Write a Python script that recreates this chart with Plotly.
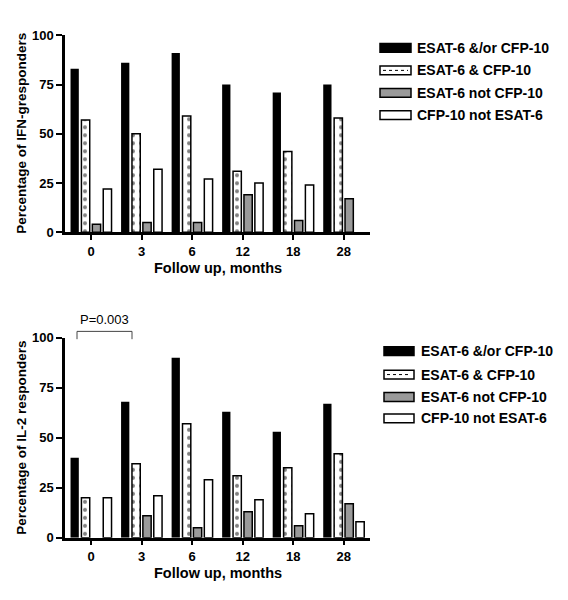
import plotly.graph_objects as go

# ---------------- data ----------------
months = ["0", "3", "6", "12", "18", "28"]
series_names = ["ESAT-6 &/or CFP-10", "ESAT-6 & CFP-10", "ESAT-6 not CFP-10", "CFP-10 not ESAT-6"]

ifn_either = [83, 86, 91, 75, 71, 75]
ifn_both = [57, 50, 59, 31, 41, 58]
ifn_esat_only = [4, 5, 5, 19, 6, 17]
ifn_cfp_only = [22, 32, 27, 25, 24, None]

il2_either = [40, 68, 90, 63, 53, 67]
il2_both = [20, 37, 57, 31, 35, 42]
il2_esat_only = [None, 11, 5, 13, 6, 17]
il2_cfp_only = [20, 21, 29, 19, 12, 8]

y_ticks = [0, 25, 50, 75, 100]
top_ytitle = "Percentage of IFN-gresponders"
bot_ytitle = "Percentage of IL-2 responders"
xtitle = "Follow up, months"
pval_text = "P=0.003"

# ---------------- layout helpers ----------------
W, H = 568, 600
ML, MR = 65, 198
PW = W - ML - MR
FONT = "Liberation Sans, Arial, sans-serif"


def px(x):
    return (x - ML) / PW


def py(y):
    return 1 - y / H


GREY = "#9a9a9a"
styles = [
    dict(marker=dict(color="black", line=dict(color="black", width=0))),
    dict(marker=dict(color="white", line=dict(color="black", width=1.5),
                     pattern=dict(shape=".", fgcolor="black", bgcolor="white", size=8, solidity=0.2))),
    dict(marker=dict(color=GREY, line=dict(color="black", width=1.5))),
    dict(marker=dict(color="white", line=dict(color="black", width=1.5))),
]

fig = go.Figure()
top_data = [ifn_either, ifn_both, ifn_esat_only, ifn_cfp_only]
bot_data = [il2_either, il2_both, il2_esat_only, il2_cfp_only]
for name, vals, st in zip(series_names, top_data, styles):
    fig.add_trace(go.Bar(x=months, y=vals, name=name, xaxis="x", yaxis="y",
                         showlegend=False, **st))
for name, vals, st in zip(series_names, bot_data, styles):
    fig.add_trace(go.Bar(x=months, y=vals, name=name, xaxis="x2", yaxis="y2",
                         showlegend=False, **st))

tickfont = dict(family=FONT, size=13, color="black", weight="bold")
xax = dict(type="category", range=[-0.515, 5.52], showline=True, linewidth=2.5,
           linecolor="black", ticks="outside", ticklen=5, tickwidth=2,
           tickcolor="black", tickfont=tickfont, showgrid=False, zeroline=False,
           fixedrange=True)
yax = dict(range=[0, 100], tickvals=y_ticks, showline=True, linewidth=2.5,
           linecolor="black", ticks="outside", ticklen=6, tickwidth=2,
           tickcolor="black", tickfont=tickfont, showgrid=False, zeroline=False)

top_y0, top_y1 = 231, 29
bot_y0, bot_y1 = 544.3, 339.3

fig.update_layout(
    width=W, height=H,
    margin=dict(l=ML, r=MR, t=0, b=0),
    paper_bgcolor="white", plot_bgcolor="white",
    barmode="group", bargap=0.137, bargroupgap=0.24,
    xaxis=dict(**xax, anchor="y"),
    yaxis=dict(**yax, domain=[py(top_y0), py(top_y1)], anchor="x"),
    xaxis2=dict(**xax, anchor="y2"),
    yaxis2=dict(**yax, domain=[py(bot_y0), py(bot_y1)], anchor="x2"),
    showlegend=False,
    font=dict(family=FONT, color="black"),
)

ann = []
shapes = []
title_font = dict(family=FONT, size=14.5, color="black", weight="bold")
ytitle_font = dict(family=FONT, size=13.5, color="black", weight="bold")
# axis titles
for xt_y, yt_text, yc in [(268, top_ytitle, (top_y0 + top_y1) / 2),
                          (581, bot_ytitle, (bot_y0 + bot_y1) / 2)]:
    ann.append(dict(text=xtitle, xref="paper", yref="paper", x=px(217.5), y=py(xt_y),
                    xanchor="center", yanchor="middle", showarrow=False, font=title_font))
    ann.append(dict(text=yt_text, xref="paper", yref="paper", x=px(22), y=py(yc),
                    xanchor="center", yanchor="middle", textangle=-90, showarrow=False,
                    font=ytitle_font))

# legends (manual, wide keys)
leg_font = dict(family=FONT, size=14, color="black", weight="bold")
for rows, kx0, kx1, tx in [([42, 65, 88, 111], 380, 411, 415),
                           ([353, 377, 400, 422], 384, 414, 419)]:
    for i, (name, ry) in enumerate(zip(series_names, rows)):
        fill = ["black", "white", GREY, "white"][i]
        shapes.append(dict(type="rect", xref="paper", yref="paper",
                           x0=px(kx0), x1=px(kx1), y0=py(ry + 4.5), y1=py(ry - 4.5),
                           fillcolor=fill, line=dict(color="black", width=1.5)))
        if i == 1:
            shapes.append(dict(type="line", xref="paper", yref="paper",
                               x0=px(kx0 + 3), x1=px(kx1 - 3), y0=py(ry), y1=py(ry),
                               line=dict(color="black", width=1, dash="dot")))
        ann.append(dict(text=name, xref="paper", yref="paper", x=px(tx), y=py(ry),
                        xanchor="left", yanchor="middle", showarrow=False, font=leg_font))

# significance bracket
bx0, bx1, btop, bleg = 77, 132, 332.7, 340.7
shapes.append(dict(type="path", xref="paper", yref="paper",
                   path=f"M {px(bx0)} {py(bleg)} L {px(bx0)} {py(btop)} L {px(bx1)} {py(btop)} L {px(bx1)} {py(bleg)}",
                   line=dict(color="#444", width=1)))
ann.append(dict(text=pval_text, xref="paper", yref="paper", x=px(104), y=py(320.5),
                xanchor="center", yanchor="middle", showarrow=False,
                font=dict(family=FONT, size=13, color="black")))

fig.update_layout(annotations=ann, shapes=shapes)
fig.write_html("out.html", config={"displayModeBar": False},
               post_script="document.body.style.margin='0';document.body.style.overflow='hidden';")
